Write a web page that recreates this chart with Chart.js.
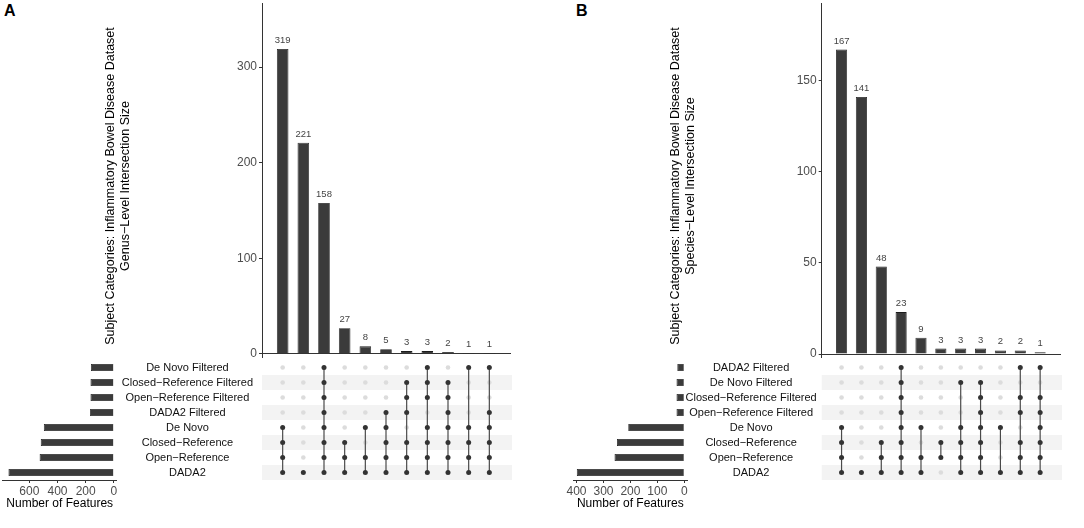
<!DOCTYPE html>
<html><head><meta charset="utf-8">
<script src="https://cdn.jsdelivr.net/npm/chart.js@4.4.0/dist/chart.umd.min.js"></script>
<style>
html,body{margin:0;padding:0;background:#fff;}
body{width:1084px;height:528px;position:relative;overflow:hidden;font-family:"Liberation Sans",Arial,sans-serif;}
canvas{position:absolute;}
.clip{position:absolute;overflow:hidden;height:358px;top:0;}
.lab{position:absolute;font-weight:bold;font-size:16px;line-height:16px;color:#000;}
</style></head><body>
<div class="lab" style="left:4px;top:3px">A</div>
<div class="lab" style="left:576px;top:3px">B</div>
<div class="clip" style="left:0;width:540px"><canvas id="barA" width="540" height="372" style="left:0;top:0"></canvas></div>
<canvas id="setA" width="125" height="160" style="left:0;top:355px"></canvas>
<canvas id="matA" width="540" height="130" style="left:0;top:355px"></canvas>
<div class="clip" style="left:540px;width:544px"><canvas id="barB" width="544" height="372" style="left:0;top:0"></canvas></div>
<canvas id="setB" width="160" height="160" style="left:540px;top:355px"></canvas>
<canvas id="matB" width="544" height="130" style="left:540px;top:355px"></canvas>
<script>
const FONT = '"Liberation Sans", Arial, sans-serif';
Chart.defaults.font.family = FONT;
Chart.defaults.animation = false;

// ---------- Panel A (genus level) ----------
const titleA = ['Subject Categories: Inflammatory Bowel Disease Dataset', 'Genus\u2212Level Intersection Size'];
const setsA = ['De Novo Filtered', 'Closed\u2212Reference Filtered', 'Open\u2212Reference Filtered', 'DADA2 Filtered',
               'De Novo', 'Closed\u2212Reference', 'Open\u2212Reference', 'DADA2'];
const setSizesA = [163, 166, 166, 169, 497, 519, 527, 748];
const intersectA = [319, 221, 158, 27, 8, 5, 3, 3, 2, 1, 1];
// row indices (top to bottom, 0-based) that are members of each intersection column
const membersA = [
  [4,5,6,7], [7], [0,1,2,3,4,5,6,7], [5,6,7], [4,6,7], [3,4,5,6,7],
  [1,2,3,5,6,7], [0,1,2,4,5,6,7], [1,2,3,4,5,6,7], [0,4,5,6,7], [0,3,4,5,6,7]
];
const sizeTicksA = [0, 100, 200, 300];
const featTicksA = [0, 200, 400, 600];

// ---------- Panel B (species level) ----------
const titleB = ['Subject Categories: Inflammatory Bowel Disease Dataset', 'Species\u2212Level Intersection Size'];
const setsB = ['DADA2 Filtered', 'De Novo Filtered', 'Closed\u2212Reference Filtered', 'Open\u2212Reference Filtered',
               'De Novo', 'Closed\u2212Reference', 'Open\u2212Reference', 'DADA2'];
const setSizesB = [26, 29, 29, 29, 208, 250, 259, 399];
const intersectB = [167, 141, 48, 23, 9, 3, 3, 3, 2, 2, 1];
const membersB = [
  [4,5,6,7], [7], [5,6,7], [0,1,2,3,4,5,6,7], [4,6,7], [5,6],
  [1,4,5,6,7], [1,2,3,4,5,6,7], [4,7], [0,2,3,5,6,7], [0,2,3,4,5,6,7]
];
const sizeTicksB = [0, 50, 100, 150];
const featTicksB = [0, 100, 200, 300, 400];

const BAR = '#3b3b3b', BAR_EDGE = '#1c1c1c', AXIS = '#333';

const valueLabels = {
  id: 'valueLabels',
  afterDatasetsDraw(chart) {
    const ctx = chart.ctx, meta = chart.getDatasetMeta(0), vals = chart.data.datasets[0].data;
    ctx.save();
    ctx.font = '9.5px ' + FONT; ctx.fillStyle = '#444';
    ctx.textAlign = 'center'; ctx.textBaseline = 'alphabetic';
    meta.data.forEach((bar, i) => ctx.fillText(String(vals[i].y), bar.x, bar.y - 6));
    ctx.restore();
  }
};

const stripes = {
  id: 'stripes',
  beforeDatasetsDraw(chart) {
    const {ctx, chartArea: a, scales: {y}} = chart;
    const n = y.getLabels().length;
    const h = Math.abs(y.getPixelForValue(1) - y.getPixelForValue(0));
    ctx.save(); ctx.fillStyle = '#f3f3f3';
    for (let r = 1; r < n; r += 2) {
      const py = y.getPixelForValue(r);
      ctx.fillRect(a.left, py - h / 2, a.right - a.left + 2, h);
    }
    ctx.restore();
  }
};

const fixedTicks = arr => function (s) { s.ticks = arr.map(v => ({ value: v })); };

function intersectionChart(id, values, yMin, yMax, ticks, titleLines, axisW, titlePad, padRight) {
  return new Chart(document.getElementById(id), {
    type: 'bar',
    data: { datasets: [{ data: values.map((v, i) => ({x: i + 1, y: v})), backgroundColor: BAR,
      borderColor: BAR_EDGE, borderWidth: 0.8, barPercentage: 0.56, categoryPercentage: 1 }] },
    options: {
      responsive: false, animation: false,
      layout: { padding: { top: 3, bottom: 3, left: 0, right: padRight } },
      plugins: { legend: { display: false }, tooltip: { enabled: false } },
      scales: {
        x: { type: 'linear', min: 0, max: 12, offset: false, position: { y: 0 },
             grid: { display: false }, ticks: { display: false },
             border: { display: true, color: AXIS, width: 1 }, afterFit(s) { s.height = 0; } },
        y: { min: yMin, max: yMax,
             afterBuildTicks: fixedTicks(ticks),
             ticks: { color: '#4d4d4d', font: { size: 12 }, padding: 2 },
             grid: { display: true, drawOnChartArea: false, drawTicks: true, tickLength: 3, color: AXIS },
             border: { display: true, color: AXIS },
             title: { display: true, text: titleLines, color: '#000', font: { size: 12.5, lineHeight: 1.2 },
                      padding: { top: titlePad, bottom: 0 } },
             afterFit(s) { s.width = axisW; s.paddingTop = 0; s.paddingBottom = 0; } }
      }
    },
    plugins: [valueLabels]
  });
}

function matrixChart(id, sets, members, axisW, padRight, labelPad) {
  const filled = [], empty = [];
  members.forEach((m, c) => {
    for (let r = 0; r < sets.length; r++) (m.includes(r) ? filled : empty).push({x: c + 1, y: sets[r]});
  });
  const lines = members.map((m, c) => ({
    type: 'line', data: [{x: c + 1, y: sets[Math.min(...m)]}, {x: c + 1, y: sets[Math.max(...m)]}],
    borderColor: '#4a4a4a', borderWidth: 1.2, pointRadius: 0, order: 1
  }));
  return new Chart(document.getElementById(id), {
    type: 'scatter',
    data: { datasets: [
      { data: filled, backgroundColor: '#333', borderWidth: 0, pointRadius: 2.5, order: 0 },
      ...lines,
      { data: empty, backgroundColor: '#dcdcdc', borderWidth: 0, pointRadius: 2.3, order: 2 }
    ] },
    options: {
      responsive: false, animation: false,
      layout: { padding: { top: 5, bottom: 5, left: 0, right: padRight } },
      plugins: { legend: { display: false }, tooltip: { enabled: false } },
      scales: {
        x: { type: 'linear', min: 0, max: 12, display: false },
        y: { type: 'category', labels: sets, offset: true, position: 'left',
             grid: { display: false }, border: { display: false },
             ticks: { color: '#111', font: { size: 11 }, padding: labelPad, crossAlign: 'center', autoSkip: false },
             afterFit(s) { s.width = axisW; s.paddingTop = 0; s.paddingBottom = 0; } }
      }
    },
    plugins: [stripes]
  });
}

function setChart(id, sets, sizes, xMin, xMax, ticks, pad) {
  return new Chart(document.getElementById(id), {
    type: 'bar',
    data: { labels: sets, datasets: [{ data: sizes, backgroundColor: BAR, borderColor: BAR_EDGE,
      borderWidth: 0.8, barPercentage: 0.47, categoryPercentage: 1 }] },
    options: {
      indexAxis: 'y', responsive: false, animation: false,
      layout: { padding: pad },
      plugins: { legend: { display: false }, tooltip: { enabled: false } },
      scales: {
        y: { display: false, offset: true },
        x: { reverse: true, min: xMin, max: xMax,
             afterBuildTicks: fixedTicks(ticks),
             ticks: { color: '#4d4d4d', font: { size: 12 }, padding: 1, maxRotation: 0, minRotation: 0, autoSkip: false },
             grid: { display: true, drawOnChartArea: false, drawTicks: true, tickLength: 3, color: AXIS },
             border: { display: true, color: AXIS },
             title: { display: true, text: 'Number of Features', color: '#000', font: { size: 12, lineHeight: 1.2 }, padding: 0 },
             afterFit(s) { s.height = 30.5; s.paddingLeft = 0; s.paddingRight = 0; } }
      }
    }
  });
}

intersectionChart('barA', intersectA, -15.7, 367, sizeTicksA, titleA, 262, 103.5, 30);
matrixChart('matA', setsA, membersA, 262, 30, 1);
setChart('setA', setsA, setSizesA, -20, 789, featTicksA, { top: 5, bottom: 4.5, left: 2.7, right: 8.3 });

intersectionChart('barB', intersectB, -8.2, 192.5, sizeTicksB, titleB, 281.7, 128.5, 24);
matrixChart('matB', setsB, membersB, 281.7, 24, -3);
setChart('setB', setsB, setSizesB, -11, 412, featTicksB, { top: 5, bottom: 4.5, left: 33.3, right: 12.7 });
</script>
</body></html>
